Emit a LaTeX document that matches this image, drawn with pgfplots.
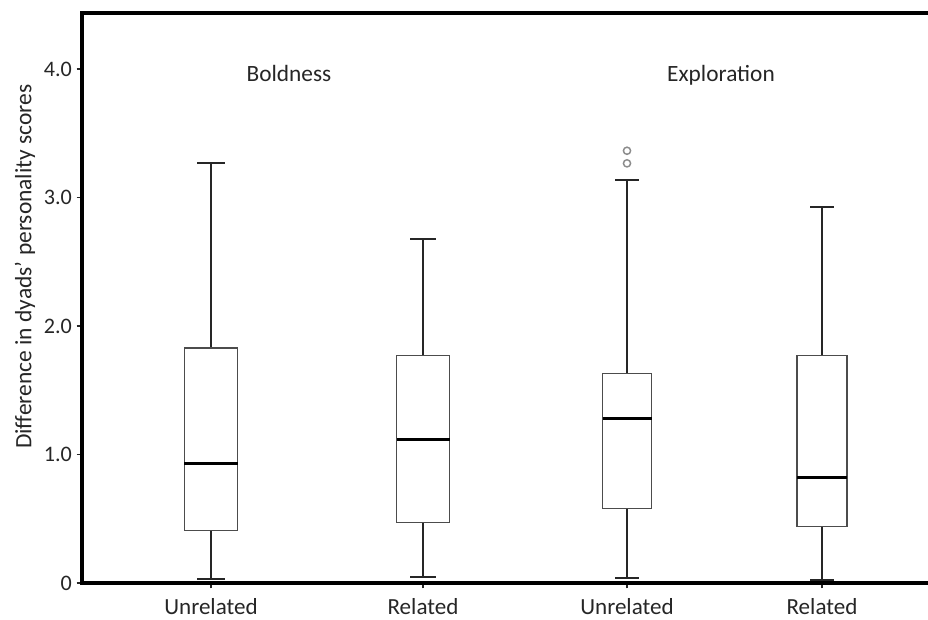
\documentclass[border=0pt]{standalone}
\usepackage{fontspec}
\setmainfont{Carlito}
\usepackage{pgfplots}
\pgfplotsset{compat=1.18}
\usepgfplotslibrary{statistics}
\begin{document}
\begin{tikzpicture}
\begin{axis}[
  scale only axis,
  width=634.5pt, height=427.5pt,
  xmin=82, xmax=928, ymin=0, ymax=4.436,
  axis lines=left,
  axis line style={-, line width=2.8pt, black},
  clip=false,
  xtick={211,423,627,822},
  xticklabels={Unrelated,Related,Unrelated,Related},
  ytick={0,1,2,3,4},
  yticklabels={0,1.0,2.0,3.0,4.0},
  tick align=outside,
  major tick length=4pt,
  tick style={line width=1.4pt, black!85},
  yticklabel style={font=\fontsize{16.6}{19}\selectfont, text=black!85},
  xticklabel style={font=\fontsize{17.3}{20}\selectfont, text=black!85, inner sep=0pt, yshift=-7.5pt},
  ylabel={Difference in dyads’ personality scores},
  ylabel style={at={(axis description cs:-0.0674,0.555)}, anchor=center, font=\fontsize{17.6}{20}\selectfont, text=black!85},
  boxplot/draw direction=y,
  boxplot/every box/.style={draw=black!70, line width=1pt, fill=white},
  boxplot/every whisker/.style={draw=black!85, line width=1.5pt},
  boxplot/every median/.style={draw=black, line width=2.2pt},
]
\addplot[draw=black!70, solid, boxplot prepared={draw position=211, lower whisker=0.03, lower quartile=0.41, median=0.93, upper quartile=1.83, upper whisker=3.27, box extend=53, whisker extend=27}] coordinates {};
\addplot[draw=black!70, solid, boxplot prepared={draw position=423, lower whisker=0.05, lower quartile=0.47, median=1.12, upper quartile=1.77, upper whisker=2.68, box extend=53, whisker extend=26}] coordinates {};
\addplot[draw=black!70, solid, mark=o, mark size=2.7pt, mark options={draw=black!45, line width=1.1pt, solid}, boxplot prepared={draw position=627, lower whisker=0.04, lower quartile=0.58, median=1.28, upper quartile=1.63, upper whisker=3.14, box extend=49, whisker extend=24}] table[row sep=\\, y index=0] {data\\ 3.364\\ 3.266\\};
\addplot[draw=black!70, solid, boxplot prepared={draw position=822, lower whisker=0.02, lower quartile=0.44, median=0.82, upper quartile=1.77, upper whisker=2.93, box extend=50, whisker extend=24}] coordinates {};
\draw[line width=2.8pt, black, line join=miter] (rel axis cs:1,0) -- (rel axis cs:0,0) -- (rel axis cs:0,1) -- (rel axis cs:1,1);
\node[font=\fontsize{17.5}{20}\selectfont, text=black!85] at (axis cs:289,3.969) {Boldness};
\node[font=\fontsize{17.5}{20}\selectfont, text=black!85] at (axis cs:721,3.953) {Exploration};
\end{axis}
\pgfresetboundingbox
\path[use as bounding box] (-61.5pt,-27pt) rectangle (634.5pt,437.25pt);
\end{tikzpicture}
\end{document}
